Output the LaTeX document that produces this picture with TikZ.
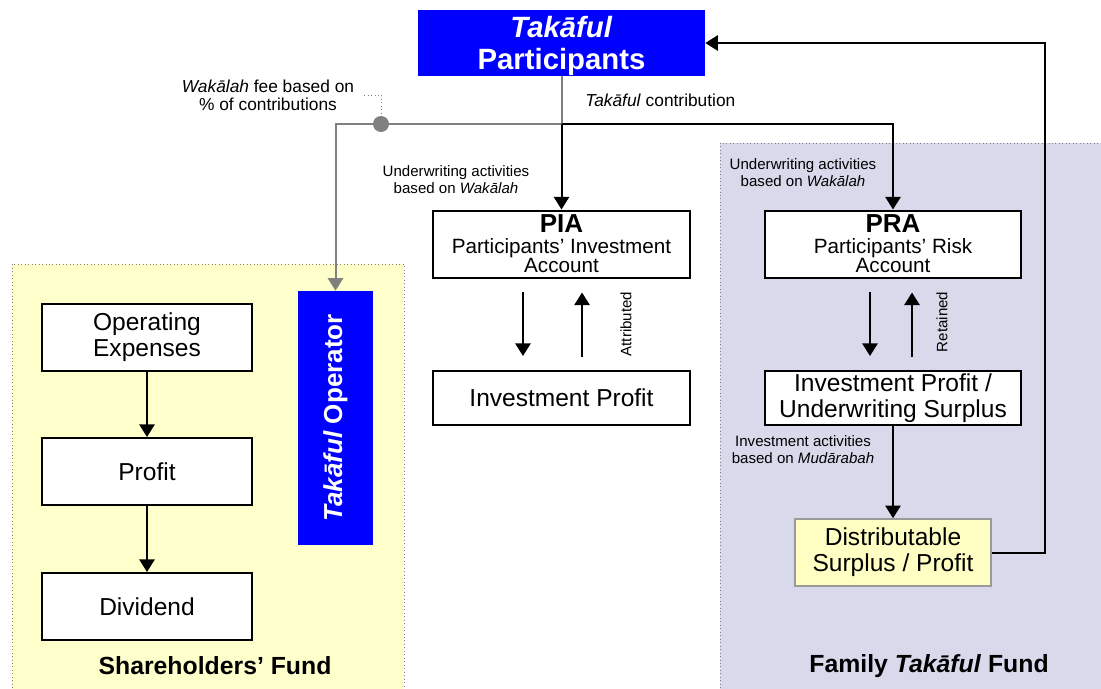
\documentclass[tikz,border=0pt]{standalone}
\usepackage{fontspec}
\setmainfont{Liberation Sans}
\usetikzlibrary{arrows.meta,calc,positioning}
\definecolor{ink}{HTML}{000000}
\definecolor{wire}{HTML}{808080}
\definecolor{brand}{HTML}{0000FF}
\definecolor{shfund}{HTML}{FFFFCC}
\definecolor{famfund}{HTML}{D9D9EC}
\definecolor{distfill}{HTML}{FFFFC4}
\definecolor{distline}{HTML}{9A9A9A}
\tikzset{>={Triangle[width=11.5pt,length=9.5pt]},
  flow/.style={->,draw=ink,line width=1.5pt},
  feeflow/.style={draw=wire,line width=1.5pt},
  panel/.style={draw=wire,dotted,line width=.6pt},
  acct/.style={draw=ink,fill=white,line width=1.5pt,inner sep=0pt,align=center,
    font=\fontsize{18.4}{19.5}\selectfont},
  headbox/.style={fill=brand,text=white,inner sep=0pt,align=center,
    font=\fontsize{22}{24.5}\selectfont\bfseries},
  subacct/.style={acct,font=\fontsize{15.5}{12.8}\selectfont},
  note/.style={inner sep=0pt,align=center,font=\fontsize{13}{13.5}\selectfont},
  smallnote/.style={inner sep=0pt,align=center,font=\fontsize{11.3}{12.8}\selectfont},
  fundlabel/.style={inner sep=0pt,font=\fontsize{18.6}{20}\selectfont\bfseries}}

\begin{document}
\begin{tikzpicture}[x=0.75pt,y=-0.75pt]
\useasboundingbox (0,0) rectangle (1101,689);
\fill[shfund] (12,264) rectangle (404,695);
\draw[panel] (12,695) -- (12,264) -- (404,264) -- (404,695);
\fill[famfund] (720,143) rectangle (1110,695);
\draw[panel] (720,695) -- (720,143) -- (1110,143);
\node[fundlabel] (shlbl) at (215,666) {Shareholders’ Fund};
\node[fundlabel] (famlbl) at (929,666) {Family \textit{Takāful} Fund};

\node[headbox,minimum width=215.25pt,minimum height=49.5pt,text depth=0pt] (part) at (561.5,43) {\textit{Takāful}\\Participants};
\node[subacct,minimum width=192.75pt,minimum height=50.25pt] (pia) at (561.5,244)
  {{\fontsize{19.5}{19.5}\selectfont\bfseries PIA}\\[2.5pt]Participants’ Investment\\Account};
\node[subacct,minimum width=192pt,minimum height=50.25pt] (pra) at (893,244)
  {{\fontsize{19.5}{19.5}\selectfont\bfseries PRA}\\[2.5pt]Participants’ Risk\\Account};
\node[acct,minimum width=192.75pt,minimum height=40.5pt] (invp) at (561.5,398) {Investment Profit};
\node[acct,minimum width=192pt,minimum height=40.5pt] (invus) at (893,398) {Investment Profit /\\Underwriting Surplus};
\node[acct,draw=distline,fill=distfill,line width=1.2pt,minimum width=147pt,minimum height=50.25pt] (dist) at (893,552.5) {Distributable\\Surplus / Profit};
\node[acct,minimum width=157.5pt,minimum height=50.25pt] (opex) at (147,337.5) {Operating\\Expenses};
\node[acct,minimum width=157.5pt,minimum height=50.25pt] (prof) at (147,471.5) {Profit};
\node[acct,minimum width=157.5pt,minimum height=50.25pt] (divd) at (147,606.5) {Dividend};
\node[headbox,rotate=90,minimum width=190.5pt,minimum height=56.25pt,font=\fontsize{19.5}{20}\selectfont\bfseries] (oper) at (335.5,418) {\textit{Takāful} Operator};

\coordinate (split) at (561.5,124);
\coordinate (fee) at (381,124);
\coordinate (loop) at (1045,43);
\draw[feeflow] (part.south) -- (split);
\draw[feeflow,->] (split) -- (oper.east |- split) -- (oper.east);
\draw[flow] (split) -- (pia.north);
\draw[flow] (split) -| (pra.north);
\fill[wire] (fee) circle (6pt);
\draw[wire,dotted,line width=.6pt] (fee) -- (381,95) -- (362,95);
\node[note] (feelbl) at (268,95) {\textit{Wakālah} fee based on\\\% of contributions};
\node[note,anchor=west] (contrib) at (585,100) {\textit{Takāful} contribution};
\node[smallnote] (uwl) at (456,180) {Underwriting activities\\based on \textit{Wakālah}};
\node[smallnote] (uwr) at (803,173) {Underwriting activities\\based on \textit{Wakālah}};
\node[smallnote] (invact) at (803,450) {Investment activities\\based on \textit{Mudārabah}};

\draw[flow,shorten <=9.75pt,shorten >=10.5pt] ([xshift=-28.9pt]pia.south) -- ([xshift=-28.9pt]invp.north);
\draw[flow,shorten <=9.75pt,shorten >=10.5pt] ([xshift=15.4pt]invp.north) -- ([xshift=15.4pt]pia.south);
\node[smallnote,rotate=90] (attr) at (626,324) {Attributed};
\draw[flow,shorten <=9.75pt,shorten >=10.5pt] ([xshift=-17.25pt]pra.south) -- ([xshift=-17.25pt]invus.north);
\draw[flow,shorten <=9.75pt,shorten >=10.5pt] ([xshift=14.25pt]invus.north) -- ([xshift=14.25pt]pra.south);
\node[smallnote,rotate=90] (ret) at (942,322) {Retained};
\draw[flow] (invus.south) -- (dist.north);
\draw[flow] (dist.east) -| (loop) -- (part.east |- loop);

\draw[flow] (opex.south) -- (prof.north);
\draw[flow] (prof.south) -- (divd.north);
\end{tikzpicture}
\end{document}
